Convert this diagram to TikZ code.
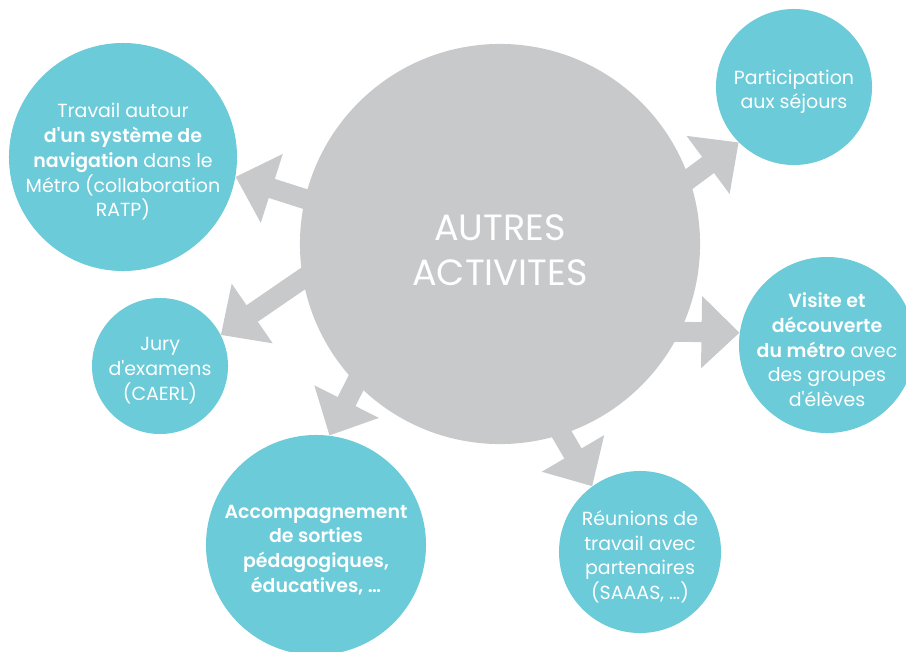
\documentclass[tikz,border=0pt]{standalone}
\usepackage{fontspec}
\setmainfont{Poppins}[BoldFont={Poppins SemiBold}]
\usepackage{tikz}
\usetikzlibrary{positioning,
				arrows.meta}

\definecolor{turquoise}{RGB}{107,203,217}
\definecolor{gris}{RGB}{200,201,203}
\newcommand{\apos}{\textquotesingle}

\begin{document}
\begin{tikzpicture}[x=0.025cm, y=-0.025cm,
		bulle/.style={circle, fill=turquoise, inner sep=0pt},
		texte/.style={text=white, align=center, yshift=-0.12cm, font=\fontsize{13.5}{17.6}\selectfont},
		fleche/.style={draw=gris, line width=0.5cm, shorten <=-0.3cm,
			-{Triangle[length=0.95cm, width=1.75cm]}}]
	\useasboundingbox (0,0) rectangle (906,651);

	% cercle central
	\node[circle, fill=gris, minimum size=10cm] (hub) at (500,244) {};

	% bulles
	\node[bulle, minimum size=5.7cm] (travail) at (123,157) {};
	\node[bulle, minimum size=3.9cm] (sejours) at (794,87) {};
	\node[bulle, minimum size=4.4cm] (visite) at (827,345) {};
	\node[bulle, minimum size=3.4cm] (jury) at (160,366) {};
	\node[bulle, minimum size=5.5cm] (sorties) at (316,545) {};
	\node[bulle, minimum size=4.05cm] (reunions) at (640,552) {};

	% fleches
	\draw[fleche] (hub.167) -- (travail.-10);
	\draw[fleche] (hub.19.5) -- (sejours.225);
	\draw[fleche] (hub.-26.4) -- (visite.172);
	\draw[fleche] (hub.190) -- (jury.27);
	\draw[fleche] (hub.224) -- (sorties.83);
	\draw[fleche] (hub.288) -- (reunions.126);

	% textes
	\node[text=white, align=center, yshift=-0.15cm, font=\fontsize{26}{32}\selectfont] (hub-txt) at (hub) {AUTRES\\ACTIVITES};
	\node[texte] (travail-txt) at (travail) {Travail autour\\\textbf{d\apos un système de}\\\textbf{navigation} dans le\\Métro (collaboration\\RATP)};
	\node[texte] (sejours-txt) at (sejours) {Participation\\aux séjours};
	\node[texte] (visite-txt) at (visite) {\textbf{Visite et}\\\textbf{découverte}\\\textbf{du métro} avec\\des groupes\\d\apos élèves};
	\node[texte] (jury-txt) at (jury) {Jury\\d\apos examens\\(CAERL)};
	\node[texte] (sorties-txt) at (sorties) {\textbf{Accompagnement}\\\textbf{de sorties}\\\textbf{pédagogiques,}\\\textbf{éducatives, …}};
	\node[texte] (reunions-txt) at (reunions) {Réunions de\\travail avec\\partenaires\\(SAAAS, …)};
\end{tikzpicture}
\end{document}
